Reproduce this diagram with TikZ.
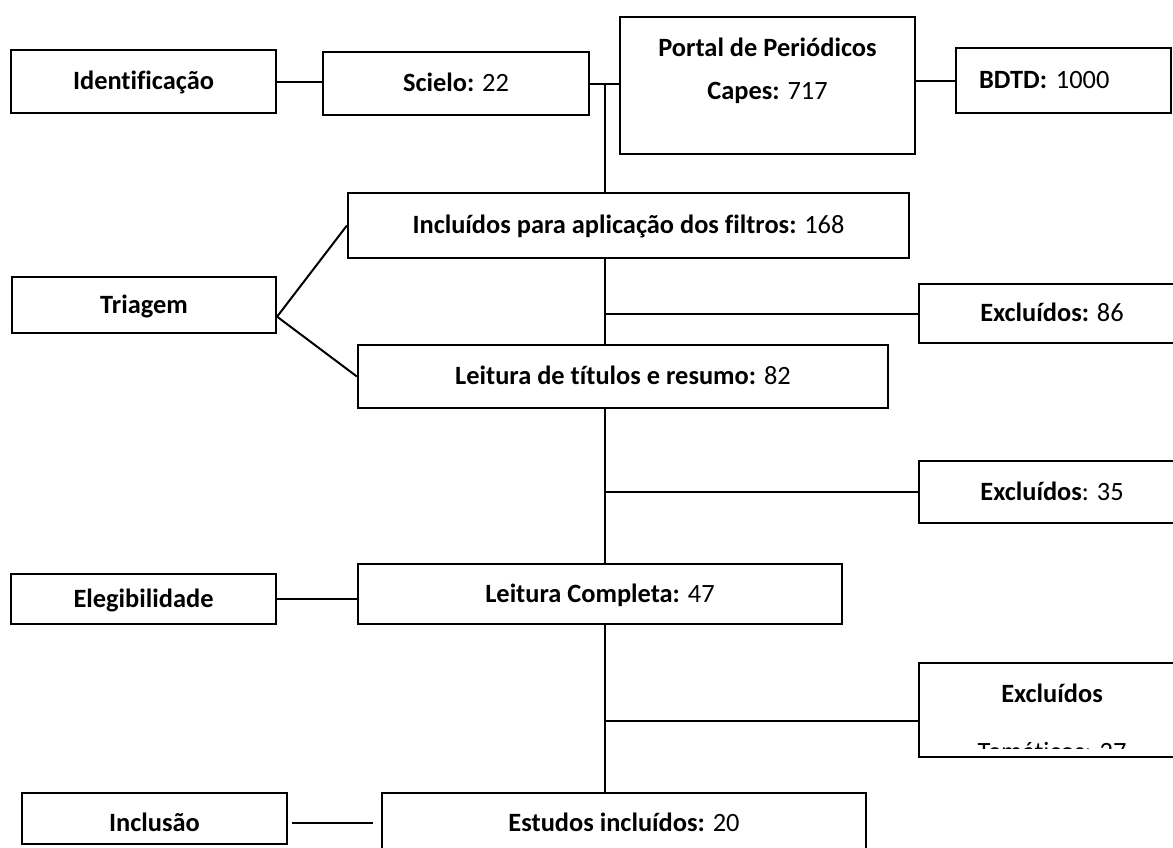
\documentclass[tikz,border=0pt]{standalone}
\usepackage{fontspec}
\setmainfont{Carlito}[Ligatures=NoCommon]
\usetikzlibrary{positioning, calc}
\newcommand{\boxfont}{\fontsize{13.2pt}{15.8pt}\selectfont}
\tikzset{
    stagebox/.style={rectangle, draw=black, line width=1.1pt, fill=white,
                     inner sep=0pt, align=center, font=\boxfont,
                     text height=9.5pt, text depth=1.5pt},
    freetext/.style={text height=0pt, text depth=0pt},
    link/.style={line width=1pt, draw=black},
}

\begin{document}
\begin{tikzpicture}[x=0.5pt, y=-0.5pt]
    \useasboundingbox (0,0) rectangle (1173,847);
    % phase boxes on the left
    \node[stagebox, minimum width=132.5pt, minimum height=31.5pt] (ident) at (143.5,81.5) {\textbf{Identificação}};
    \node[stagebox, minimum width=132pt, minimum height=28pt] (triagem) at (144,305) {\textbf{Triagem}};
    \node[stagebox, minimum width=132.5pt, minimum height=25pt] (eleg) at (143.5,599) {\textbf{Elegibilidade}};
    \node[stagebox, text height=14.5pt, minimum width=132.5pt, minimum height=25.5pt] (inclusao) at (154.5,818.5) {\textbf{Inclusão}};
    % sources
    \node[stagebox, minimum width=133pt, minimum height=31.5pt] (scielo) at (456,83.5) {\textbf{Scielo:} 22};
    \node[stagebox, freetext, minimum width=147.5pt, minimum height=68.5pt] (portal) at (767.5,85.5)
        {\raisebox{4pt}[0pt][0pt]{\begin{tabular}{@{}c@{}}\textbf{Portal de Periódicos}\\[5.7pt]\textbf{Capes:} 717\end{tabular}}};
    \node[stagebox, minimum height=32.5pt, inner xsep=11.5pt, text width=84.5pt, align=left] (bdtd) at (1063.5,80.5) {\textbf{BDTD:} 1000};
    % main flow
    \node[stagebox, minimum width=280.5pt, minimum height=32.5pt] (incl) at (628.5,225.5) {\textbf{Incluídos para aplicação dos filtros:} 168};
    \node[stagebox, minimum width=265pt, minimum height=31.5pt] (leit) at (623,376.5) {\textbf{Leitura de títulos e resumo:} 82};
    \node[stagebox, minimum width=242pt, minimum height=30pt] (compl) at (600,594) {\textbf{Leitura Completa:} 47};
    \node[stagebox, minimum width=242pt, minimum height=30pt] (estudos) at (624,823) {\textbf{Estudos incluídos:} 20};
    % exclusions
    \node[stagebox, minimum width=133pt, minimum height=29.5pt] (exc1) at (1052,313.5) {\textbf{Excluídos:} 86};
    \node[stagebox, minimum width=133pt, minimum height=31pt] (exc2) at (1052,492) {\textbf{Excluídos}: 35};
    \node[stagebox, freetext, minimum width=133pt, minimum height=47pt] (exc3) at (1052,710) {\raisebox{4pt}[0pt][0pt]{\textbf{Excluídos}}};
    \begin{scope}
        \clip (exc3.north west) rectangle ($(exc3.south east)+(0,-10)$);
        \node[anchor=base, font=\boxfont, inner sep=0pt] (exc3b) at ($(exc3.center)+(0,50)$) {Temáticos: 27};
    \end{scope}

    % connectors
    \coordinate (spine) at ($(scielo.east)!0.5!(scielo.east -| portal.west)$);
    \coordinate (tj) at ($(triagem.south east)!0.3!(triagem.north east)$);
    \coordinate (exc3in) at ($(exc3.south west)!0.39!(exc3.north west)$);
    \draw[link] (ident.east) -- (ident.east -| scielo.west);
    \draw[link] (scielo.east) -- (scielo.east -| portal.west);
    \draw[link] (portal.east |- bdtd.west) -- (bdtd.west);
    \draw[link] (spine) -- (spine |- incl.north);
    \draw[link] (spine |- incl.south) -- (spine |- leit.north);
    \draw[link] (spine |- leit.south) -- (spine |- compl.north);
    \draw[link] (spine |- compl.south) -- (spine |- estudos.north);
    \draw[link] (tj) -- (incl.west);
    \draw[link] (tj) -- (leit.west);
    \draw[link] (spine |- exc1.west) -- (exc1.west);
    \draw[link] (spine |- exc2.west) -- (exc2.west);
    \draw[link] (spine |- exc3in) -- (exc3in);
    \draw[link] (eleg.east) -- (eleg.east -| compl.west);
    \draw[link, shorten <=2pt, shorten >=4pt] ($(inclusao.east)+(0,4)$) -- ($(inclusao.east -| estudos.west)+(0,4)$);
\end{tikzpicture}
\end{document}
